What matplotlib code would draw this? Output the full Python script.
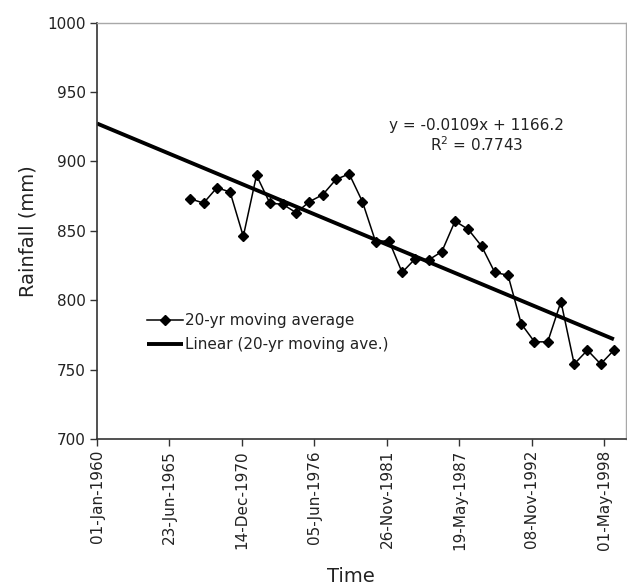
import datetime as dt
import matplotlib
matplotlib.use("Agg")
import matplotlib.pyplot as plt

# ---- data ----
years = list(range(1967, 2000))
rainfall = [873, 870, 881, 878, 846, 890, 870, 869, 863, 871, 876, 887, 891,
            871, 842, 843, 820, 830, 829, 835, 857, 851, 839, 820, 818, 783,
            770, 770, 799, 754, 764, 754, 764]
trend_slope = -0.0109
trend_intercept = 1166.2
r_squared = 0.7743
tick_labels = ["01-Jan-1960", "23-Jun-1965", "14-Dec-1970", "05-Jun-1976",
               "26-Nov-1981", "19-May-1987", "08-Nov-1992", "01-May-1998"]
series_name = "20-yr moving average"
trend_name = "Linear (20-yr moving ave.)"

EPOCH = dt.date(1899, 12, 30)


def serial(d):
    return (d - EPOCH).days


x = [serial(dt.date(y, 1, 20)) for y in years]
tick_pos = [serial(dt.datetime.strptime(s, "%d-%b-%Y").date()) for s in tick_labels]
x0 = tick_pos[0]
x1 = x[-1]
xmax = serial(dt.date(1999, 12, 20))

plt.rcParams['font.family'] = ['DejaVu Sans']

fig = plt.figure(figsize=(6.27, 5.85), dpi=100)
W, H = 627, 585
L, R, T, B = 97, 626, 22.6, 439
ax = fig.add_axes([L / W, (H - B) / H, (R - L) / W, (B - T) / H])

ax.plot(x, rainfall, color='black', lw=1.1, marker='D', ms=5.5,
        label=series_name, zorder=3)
tx = [x0, x1]
ty = [trend_slope * v + trend_intercept for v in tx]
ax.plot(tx, ty, color='black', lw=2.8, label=trend_name, zorder=2,
        solid_capstyle='butt')

ax.set_xlim(x0, xmax)
ax.set_ylim(700, 1000)
ax.set_yticks(range(700, 1001, 50))
ax.set_xticks(tick_pos)
ax.set_xticklabels(tick_labels, rotation=90, fontsize=11, color='#222222')
ax.tick_params(axis='y', labelsize=11, labelcolor='#222222')
ax.tick_params(direction='out', length=5, width=1, color='#333333', pad=3)

for s in ['left', 'bottom']:
    ax.spines[s].set_color('#333333')
    ax.spines[s].set_linewidth(1.2)
for s in ['top', 'right']:
    ax.spines[s].set_color('#A8A8A8')
    ax.spines[s].set_linewidth(1.0)

fig.text(28 / W, 1 - ((T + B) / 2) / H, "Rainfall (mm)", rotation=90,
         ha='center', va='center', fontsize=14, color='#222222')
fig.text(351 / W, 1 - 576 / H, "Time", ha='center', va='center',
         fontsize=14, color='#222222')

ax.text(0.717, 0.754, "y = -0.0109x + 1166.2", transform=ax.transAxes,
        ha='center', va='center', fontsize=11, color='#222222')
ax.text(0.717, 0.706, "R$^2$ = %.4f" % r_squared, transform=ax.transAxes,
        ha='center', va='center', fontsize=11, color='#222222')

leg = ax.legend(loc='upper left', bbox_to_anchor=(0.094, 0.302), frameon=False,
                fontsize=11, handlelength=2.4, handletextpad=0.1,
                borderpad=0, borderaxespad=0, labelspacing=0.6)
for t in leg.get_texts():
    t.set_color('#222222')

fig.savefig("out.png", dpi=100)
